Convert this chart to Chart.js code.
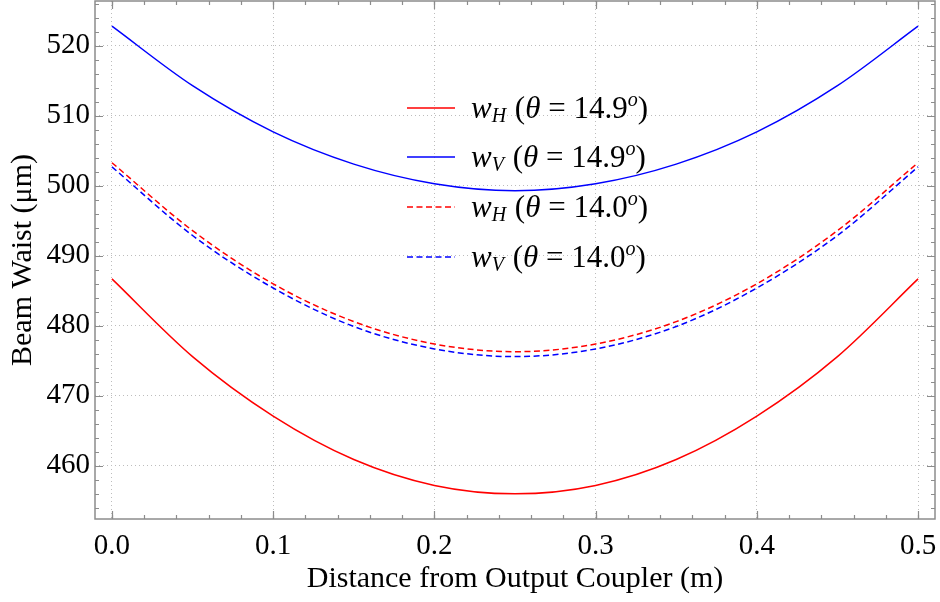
<!DOCTYPE html>
<html>
<head>
<meta charset="utf-8">
<script src="https://cdn.jsdelivr.net/npm/chart.js@4/dist/chart.umd.min.js"></script>
<style>
  html, body { margin: 0; padding: 0; background: #fff; }
  #wrap { width: 940px; height: 602px; }
</style>
</head>
<body>
<div id="wrap"><canvas id="waist"></canvas></div>
<script>
const serif = "'Liberation Serif', 'DejaVu Serif', serif";

// distance from the output coupler (m)
const distance = [0, 0.05, 0.1, 0.15, 0.2, 0.25, 0.3, 0.35, 0.4, 0.45, 0.5];

// beam waist (um) for each crystal angle
const wH149 = [486.7, 475.6, 467.1, 460.9, 457.2, 456.0, 457.2, 460.9, 467.1, 475.6, 486.7];
const wV149 = [522.8, 514.3, 507.7, 503.1, 500.3, 499.3, 500.3, 503.1, 507.7, 514.3, 522.8];
const wH140 = [503.3, 493.6, 486.0, 480.6, 477.4, 476.3, 477.4, 480.6, 486.0, 493.6, 503.3];
const wV140 = [502.7, 492.9, 485.4, 479.9, 476.7, 475.6, 476.7, 479.9, 485.4, 492.9, 502.7];

const seriesSub = ['H', 'V', 'H', 'V'];
const seriesAngle = ['14.9', '14.9', '14.0', '14.0'];

const xTicks = [0.0, 0.1, 0.2, 0.3, 0.4, 0.5];

const dash = [6, 3.5];

function line(values, color, dashed) {
    return {
        data: distance.map((d, i) => ({ x: d, y: values[i] })),
        borderColor: color,
        backgroundColor: color,
        borderWidth: 1.5,
        borderDash: dashed ? dash : [],
        pointRadius: 0,
        cubicInterpolationMode: 'monotone',
        fill: false,
    };
}

const datasets = [
    line(wH149, '#ff0000', false),
    line(wV149, '#0000ff', false),
    line(wH140, '#ff0000', true),
    line(wV140, '#0000ff', true),
];

// inward major + minor ticks on all four sides
const innerTicks = {
    id: 'innerTicks',
    afterDraw(chart) {
        const ctx = chart.ctx;
        const a = chart.chartArea;
        const xs = chart.scales.x, ys = chart.scales.y;
        ctx.save();
        ctx.strokeStyle = '#8c8c8c';
        ctx.lineWidth = 1.2;
        const drawX = (v, len) => {
            const p = Math.round(xs.getPixelForValue(v)) + 0.5;
            if (p < a.left || p > a.right) return;
            ctx.beginPath();
            ctx.moveTo(p, a.bottom); ctx.lineTo(p, a.bottom - len);
            ctx.moveTo(p, a.top); ctx.lineTo(p, a.top + len);
            ctx.stroke();
        };
        const drawY = (v, len) => {
            const p = Math.round(ys.getPixelForValue(v)) + 0.5;
            if (p < a.top || p > a.bottom) return;
            ctx.beginPath();
            ctx.moveTo(a.left, p); ctx.lineTo(a.left + len, p);
            ctx.moveTo(a.right, p); ctx.lineTo(a.right - len, p);
            ctx.stroke();
        };
        for (let v = -0.02; v <= xs.max + 1e-9; v += 0.02) drawX(v, 4);
        xs.ticks.forEach(t => drawX(t.value, 8));
        for (let v = 452; v <= ys.max; v += 2) drawY(v, 4);
        ys.ticks.forEach(t => drawY(t.value, 8));
        // frame
        ctx.lineWidth = 1.5;
        ctx.strokeRect(a.left, a.top, a.right - a.left, a.bottom - a.top);
        ctx.restore();
    }
};

// legend with math-style labels: w_H (θ = 14.9^o)
const mathLegend = {
    id: 'mathLegend',
    afterDraw(chart) {
        const ctx = chart.ctx;
        const x0 = 407, x1 = 455, tx = 471;
        const rows = [108, 157, 207, 257];
        const big = 31, small = 20;
        ctx.save();
        chart.data.datasets.forEach((ds, i) => {
            const y = rows[i];
            ctx.strokeStyle = ds.borderColor;
            ctx.lineWidth = 1.5;
            ctx.setLineDash(ds.borderDash);
            ctx.beginPath();
            ctx.moveTo(x0, y); ctx.lineTo(x1, y);
            ctx.stroke();
            ctx.setLineDash([]);

            ctx.fillStyle = '#000';
            ctx.textBaseline = 'alphabetic';
            const base = y + 10;
            let x = tx;
            const put = (txt, size, italic, dy, gap) => {
                ctx.font = (italic ? 'italic ' : '') + size + 'px ' + serif;
                ctx.fillText(txt, x, base + dy);
                x += ctx.measureText(txt).width + (gap || 0);
            };
            put('w', big, true, 0);
            put(seriesSub[i], small, true, 4, 1);
            put(' (', big, false, 0);
            put('θ', big, true, 0);
            put(' = ' + seriesAngle[i], big, false, 0);
            put('o', small, true, -12);
            put(')', big, false, 0);
        });
        ctx.restore();
    }
};

const config = {
    type: 'line',
    data: { datasets: datasets },
    options: {
        responsive: true,
        maintainAspectRatio: false,
        animation: false,
        layout: { padding: { top: 1, right: 5, left: 0, bottom: 0 } },
        plugins: {
            legend: { display: false },
            tooltip: { enabled: false },
        },
        scales: {
            x: {
                type: 'linear',
                min: -0.0105,
                max: 0.5105,
                afterFit(scale) {
                    scale.height = 83;
                    scale.paddingLeft = 0;
                    scale.paddingRight = 0;
                },
                afterBuildTicks(scale) { scale.ticks = xTicks.map(v => ({ value: v })); },
                ticks: {
                    callback: v => v.toFixed(1),
                    font: { family: serif, size: 29 },
                    color: '#000',
                    padding: 10,
                    maxRotation: 0,
                },
                grid: {
                    color: '#bdbdbd',
                    lineWidth: 1,
                    drawTicks: false,
                },
                border: { display: false, dash: [1, 3] },
                title: {
                    display: true,
                    text: 'Distance from Output Coupler (m)',
                    font: { family: serif, size: 30 },
                    color: '#000',
                    padding: { top: 0, bottom: 5 },
                },
            },
            y: {
                type: 'linear',
                min: 452.4,
                max: 526.4,
                afterFit(scale) {
                    scale.width = 95;
                    scale.paddingTop = 0;
                    scale.paddingBottom = 0;
                },
                ticks: {
                    stepSize: 10,
                    includeBounds: false,
                    font: { family: serif, size: 29 },
                    color: '#000',
                    padding: 5,
                },
                grid: {
                    color: '#bdbdbd',
                    lineWidth: 1,
                    drawTicks: false,
                },
                border: { display: false, dash: [1, 3] },
                title: {
                    display: true,
                    text: 'Beam Waist (μm)',
                    font: { family: serif, size: 30 },
                    color: '#000',
                    padding: { top: 5, bottom: 0 },
                },
            },
        },
    },
    plugins: [innerTicks, mathLegend],
};

const waistChart = new Chart(document.getElementById('waist'), config);
</script>
</body>
</html>
